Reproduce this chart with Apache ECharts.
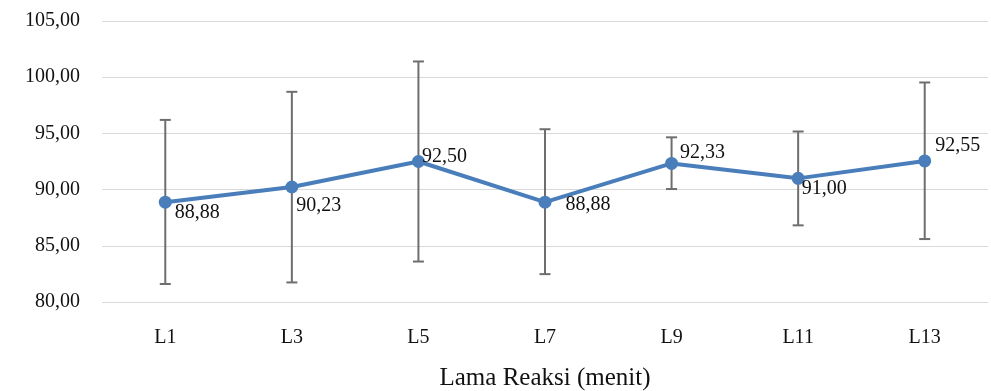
<!DOCTYPE html>
<html>
<head>
<meta charset="utf-8">
<script src="https://cdn.jsdelivr.net/npm/echarts@6/dist/echarts.min.js"></script>
<style>
  html, body { margin: 0; padding: 0; background: #fff; }
  #chart { width: 991px; height: 391px; }
</style>
</head>
<body>
<div id="chart"></div>
<script>
// Reaction-time categories and mean yield with error ranges
const categories = ['L1', 'L3', 'L5', 'L7', 'L9', 'L11', 'L13'];
const means      = [88.88, 90.23, 92.50, 88.88, 92.33, 91.00, 92.55];
const errLow     = [81.60, 81.74, 83.60, 82.48, 90.05, 86.82, 85.60];
const errHigh    = [96.20, 98.70, 101.40, 95.37, 94.65, 95.17, 99.53];
const yTicks     = [80, 85, 90, 95, 100, 105];

// Label nudges (px from the marker centre), one per point
const labelNudge = [[9, 11], [4, 19], [3, -5], [20, 3], [8, -11], [3, 10], [10, -15]];

const fmt = v => v.toFixed(2).replace('.', ',');
const FONT = '"Liberation Serif", "Times New Roman", serif';

const chart = echarts.init(document.getElementById('chart'), null, { renderer: 'canvas' });

chart.setOption({
  animation: false,
  backgroundColor: '#ffffff',
  grid: { left: 102, right: 3, top: 21, bottom: 89, containLabel: false, outerBoundsMode: 'none' },
  xAxis: {
    type: 'category',
    data: categories,
    boundaryGap: true,
    axisLine: { show: false },
    axisTick: { show: false },
    axisLabel: { margin: 26, fontFamily: FONT, fontSize: 20, color: '#111' },
    name: 'Lama Reaksi (menit)',
    nameLocation: 'middle',
    nameGap: 64,
    nameTextStyle: { fontFamily: FONT, fontSize: 25, color: '#111' }
  },
  yAxis: {
    type: 'value',
    min: yTicks[0],
    max: yTicks[yTicks.length - 1],
    interval: yTicks[1] - yTicks[0],
    axisLine: { show: false },
    axisTick: { show: false },
    splitLine: { lineStyle: { color: '#d9d9d9', width: 1 } },
    axisLabel: { margin: 22, fontFamily: FONT, fontSize: 20, color: '#111', formatter: fmt }
  },
  series: [
    {
      // vertical error bars with caps
      type: 'custom',
      z: 1,
      data: categories.map((c, i) => [i, errLow[i], errHigh[i]]),
      renderItem: function (params, api) {
        const x = api.value(0);
        const lo = api.coord([x, api.value(1)]);
        const hi = api.coord([x, api.value(2)]);
        const cap = 5.5;
        const style = { stroke: '#6e6e6e', lineWidth: 2, fill: null };
        return {
          type: 'group',
          children: [
            { type: 'line', shape: { x1: hi[0], y1: hi[1], x2: lo[0], y2: lo[1] }, style: style },
            { type: 'line', shape: { x1: hi[0] - cap, y1: hi[1], x2: hi[0] + cap, y2: hi[1] }, style: style },
            { type: 'line', shape: { x1: lo[0] - cap, y1: lo[1], x2: lo[0] + cap, y2: lo[1] }, style: style }
          ]
        };
      }
    },
    {
      type: 'line',
      z: 3,
      data: means.map((v, i) => ({
        value: v,
        label: { offset: [labelNudge[i][0] - 6, labelNudge[i][1]] }
      })),
      symbol: 'circle',
      symbolSize: 13,
      lineStyle: { color: '#4a7ebb', width: 4 },
      itemStyle: { color: '#4a7ebb' },
      label: {
        show: true,
        position: 'right',
        distance: 0,
        align: 'left',
        verticalAlign: 'middle',
        fontFamily: FONT,
        fontSize: 20,
        color: '#111',
        formatter: p => fmt(p.value)
      }
    }
  ]
});
</script>
</body>
</html>
